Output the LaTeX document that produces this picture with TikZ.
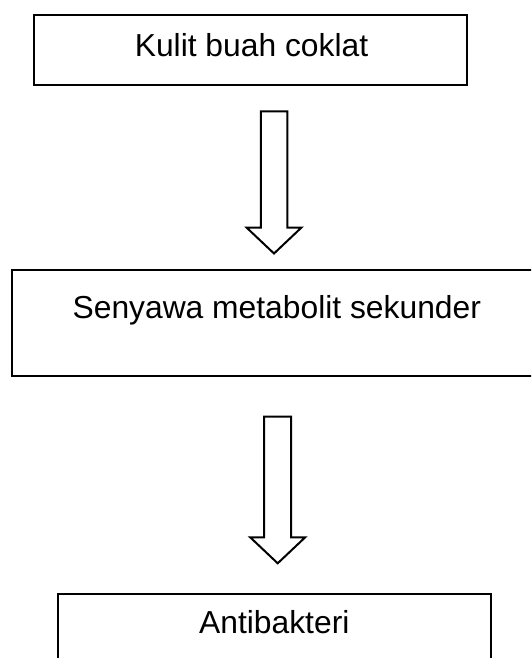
\documentclass[tikz,border=0pt]{standalone}
\usepackage{fontspec}
\setmainfont{Liberation Sans}
\usetikzlibrary{calc}
\begin{document}
\begin{tikzpicture}[x=1pt,y=-1pt,
  box/.style={draw=black, line width=2.2pt, rectangle, inner sep=0pt},
  lbl/.style={font=\fontsize{31.8}{38}\selectfont, inner sep=0pt, anchor=base},
  blockarrow/.style={draw=black, line width=2pt, fill=white, line join=miter}]
\useasboundingbox (0,0) rectangle (531,658);
\clip (0,0) rectangle (531,658);
\fill[white] (0,0) rectangle (531,658);
% boxes
\node[box, minimum width=433.4pt, minimum height=70.5pt] (b1) at (250.6,49.95) {};
\node[box, minimum width=529.7pt, minimum height=105.8pt] (b2) at (276.75,322.7) {};
\node[box, minimum width=432.8pt, minimum height=126.2pt] (b3) at (274.6,656.9) {};
% texts
\node[lbl] (t1) at (251.5,56.7) {Kulit buah coklat};
\node[lbl] (t2) at (276.8,318.9) {Senyawa metabolit sekunder};
\node[lbl] (t3) at (274.3,633.7) {Antibakteri};
% arrow 1
\coordinate (a1s) at ($(b1.south)+(23.4,25.2)$);
\coordinate (a1t) at ($(b2.north)+(-2.75,-15.2)$);
\draw[blockarrow] ($(a1s)+(-13.25,0)$) -- ($(a1s)+(13.25,0)$) -- ($(a1t)+(13.25,-26)$) -- ($(a1t)+(27.5,-26)$) -- (a1t) -- ($(a1t)+(-27.5,-26)$) -- ($(a1t)+(-13.25,-26)$) -- cycle;
% arrow 2
\coordinate (a2s) at ($(b2.south)+(0.95,39.8)$);
\coordinate (a2t) at ($(b3.north)+(3.1,-29.4)$);
\draw[blockarrow] ($(a2s)+(-13.5,0)$) -- ($(a2s)+(13.5,0)$) -- ($(a2t)+(13.5,-26)$) -- ($(a2t)+(27.5,-26)$) -- (a2t) -- ($(a2t)+(-27.5,-26)$) -- ($(a2t)+(-13.5,-26)$) -- cycle;
\end{tikzpicture}
\end{document}
